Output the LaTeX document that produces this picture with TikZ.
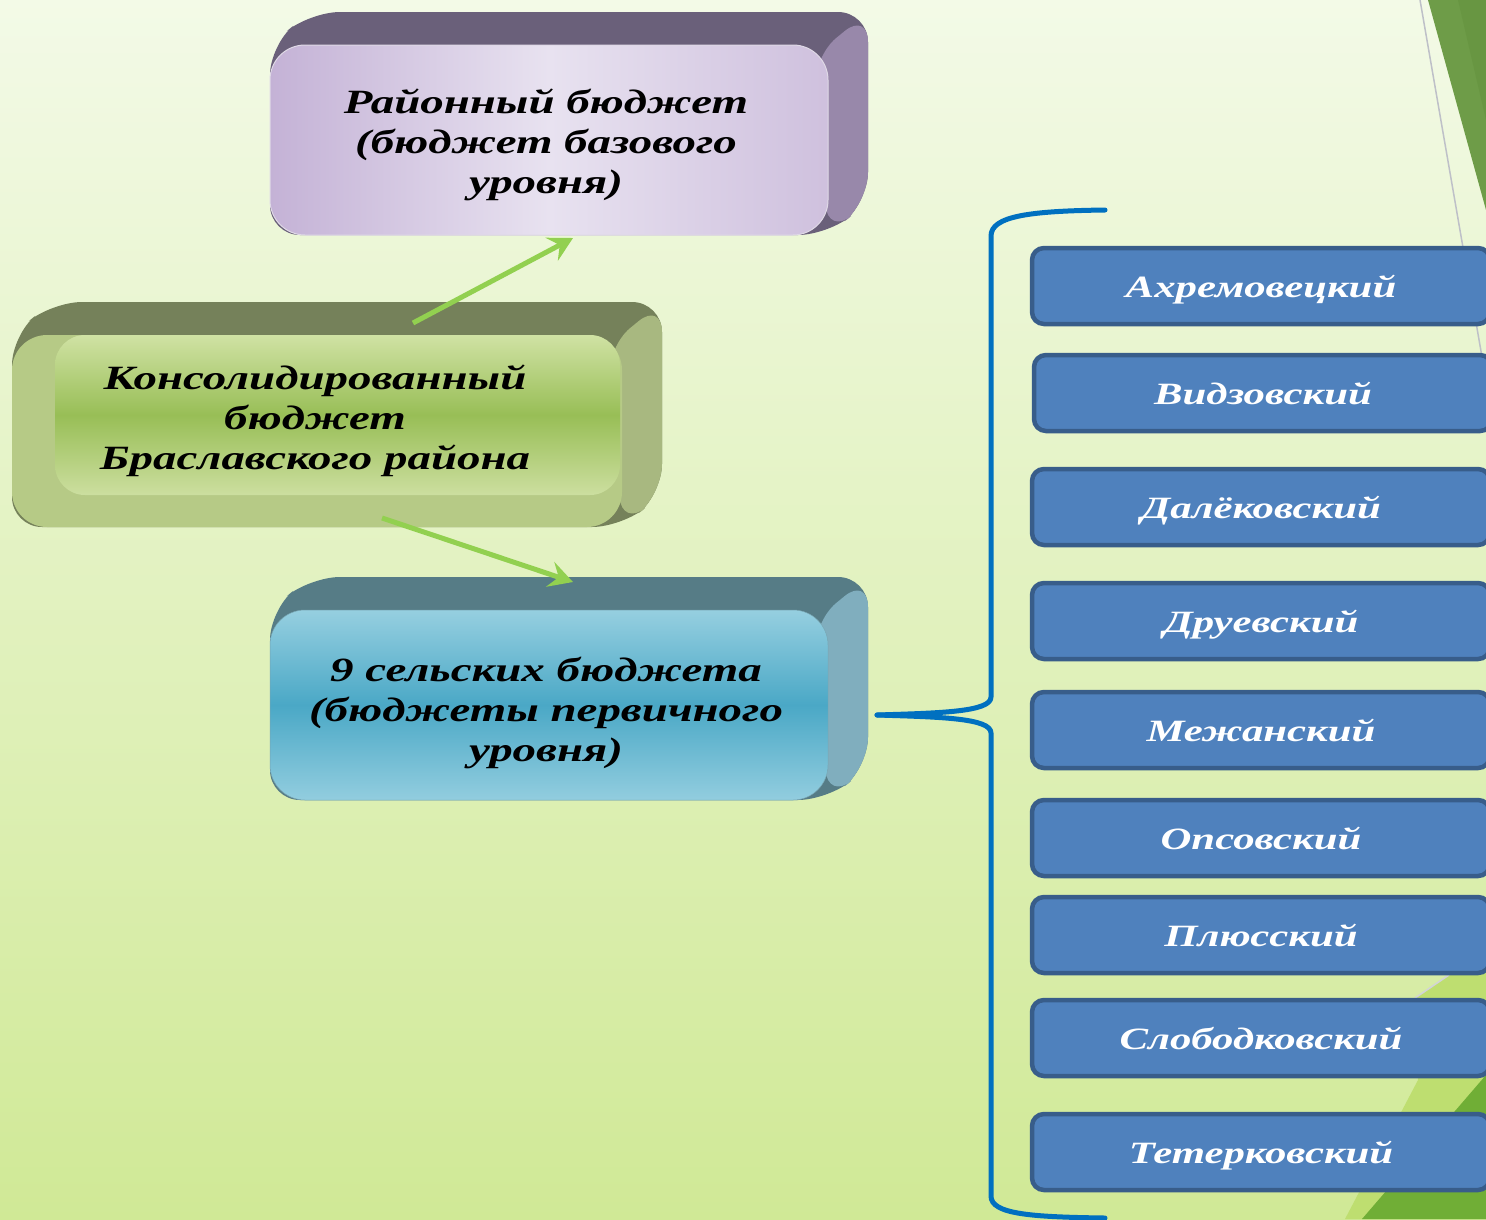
\documentclass[tikz,border=0pt]{standalone}
\usepackage{fontspec}
\setmainfont{Liberation Serif}
\newfontfamily\widefont[FakeStretch=1.38]{Liberation Serif}
\usetikzlibrary{arrows.meta,calc}
\definecolor{bgtop}{RGB}{243,250,231}
\definecolor{bgbot}{RGB}{208,233,150}
\definecolor{pTop}{RGB}{106,96,122}
\definecolor{pSide}{RGB}{152,136,170}
\definecolor{pA}{RGB}{232,226,240}
\definecolor{pB}{RGB}{196,178,214}
\definecolor{gTop}{RGB}{117,129,90}
\definecolor{gSide}{RGB}{168,184,128}
\definecolor{gRim}{RGB}{182,202,134}
\definecolor{gA}{RGB}{208,226,164}
\definecolor{gB}{RGB}{152,190,86}
\definecolor{bTop}{RGB}{86,124,134}
\definecolor{bSide}{RGB}{128,174,190}
\definecolor{bA}{RGB}{150,207,224}
\definecolor{bB}{RGB}{74,168,198}
\definecolor{vFill}{RGB}{79,129,189}
\definecolor{vEdge}{RGB}{56,93,138}
\definecolor{braceC}{RGB}{0,112,192}
\definecolor{arrowC}{RGB}{146,208,80}
\definecolor{darkG}{RGB}{110,156,72}
\definecolor{darkG2}{RGB}{104,150,66}
\definecolor{limeG}{RGB}{190,222,112}
\definecolor{deepG}{RGB}{112,174,54}
\definecolor{lineGray}{RGB}{190,192,200}
\newcommand\BoxThreeD[6]{%
  \fill[#5, rounded corners=30] (#1,#4) -- (#1,#2) -- (#1+40,#2-33) -- (#3+40,#2-33) -- (#3+40,#4-33) -- (#3,#4) -- cycle;
  \fill[#6, rounded corners=30] (#3-15,#2+12) -- (#3+40,#2-33) -- (#3+40,#4-33) -- (#3,#4) -- cycle;
}
\tikzset{
  bigtext/.style={align=center, text=black, font=\widefont\fontsize{34}{40}\selectfont\bfseries\itshape},
  village/.style={rounded corners=12, fill=vFill, draw=vEdge, line width=4.5pt,
    minimum width=458pt, minimum height=76pt, text=white, text height=27pt, text depth=5pt,
    font=\widefont\fontsize{31}{36}\selectfont\bfseries\itshape},
  conn/.style={draw=arrowC, line width=5pt, -{Stealth[length=24pt,width=26pt,inset=9pt]}},
  brace/.style={draw=braceC, line width=5pt, line cap=round, line join=round}
}
\begin{document}
\begin{tikzpicture}[x=1pt,y=-1pt]
\useasboundingbox (0,0) rectangle (1486,1219);
\clip (0,0) rectangle (1486,1219);
\shade[top color=bgtop, bottom color=bgbot] (0,0) rectangle (1486,1219);
% decorations, top right
\fill[darkG] (1428,0) -- (1486,0) -- (1486,210) -- cycle;
\fill[darkG2] (1458,0) -- (1486,0) -- (1486,120) -- cycle;
\draw[lineGray, line width=1.5pt] (1420,0) -- (1486,380);
% decorations, bottom right
\fill[limeG] (1486,950) -- (1415,998) -- (1418,1080) -- (1345,1219) -- (1486,1219) -- cycle;
\fill[deepG] (1486,1075) -- (1486,1219) -- (1362,1219) -- cycle;
\draw[lineGray!70!white, line width=1.5pt] (1449,975) -- (1415,998);

% purple box
\BoxThreeD{270}{45}{828}{235}{pTop}{pSide}
\shade[rounded corners=35, left color=pB, right color=pB!70!pA, middle color=pA, draw=pA!80!black!20!pA, line width=1pt] (270,45) rectangle (828,235);
\node[bigtext] (rayon) at (546,145) {Районный бюджет\\(бюджет базового\\уровня)};
\coordinate (rayonS) at (549,235);

% green box
\BoxThreeD{12}{335}{622}{527}{gTop}{gSide}
\fill[gRim, rounded corners=35] (12,335) rectangle (622,527);
\shade[rounded corners=30, top color=gA, bottom color=gA!85!gRim, middle color=gB] (55,335) rectangle (620,495);
\node[bigtext] (cons) at (315,421) {Консолидированный\\бюджет\\Браславского района};
\coordinate (consN) at (317,335);
\coordinate (consS) at (317,527);

% blue box
\BoxThreeD{270}{610}{828}{800}{bTop}{bSide}
\shade[rounded corners=35, top color=bA, bottom color=bA!95!bB, middle color=bB, draw=bA!80!black, line width=0.5pt] (270,610) rectangle (828,800);
\node[bigtext] (selsk) at (546,713) {9 сельских бюджета\\(бюджеты первичного\\уровня)};
\coordinate (selskN) at (549,610);
\coordinate (selskE) at (828,705);

% arrows
\draw[conn] ($(consN)+(96,-12)$) -- ($(rayonS)+(24,3)$);
\draw[conn] ($(consS)+(65,-9)$) -- ($(selskN)+(24,-28)$);

% brace
\coordinate (btip) at ($(selskE)+(49,10)$);
\draw[brace] (btip) .. controls (940,713) and (991,712) .. (991,697) -- (991,236) .. controls (991,216) and (1030,211) .. (1105,210);
\draw[brace] (btip) .. controls (940,717) and (991,718) .. (991,733) -- (991,1196) .. controls (991,1214) and (1030,1217) .. (1105,1218);

% villages
\node[village] (v1) at (1261,286) {Ахремовецкий};
\node[village] (v2) at (1263,393) {Видзовский};
\node[village] (v3) at (1261,507) {Далёковский};
\node[village] (v4) at (1261,621) {Друевский};
\node[village] (v5) at (1261,730) {Межанский};
\node[village] (v6) at (1261,838) {Опсовский};
\node[village] (v7) at (1261,935) {Плюсский};
\node[village] (v8) at (1261,1038) {Слободковский};
\node[village] (v9) at (1261,1152) {Тетерковский};
\end{tikzpicture}
\end{document}
